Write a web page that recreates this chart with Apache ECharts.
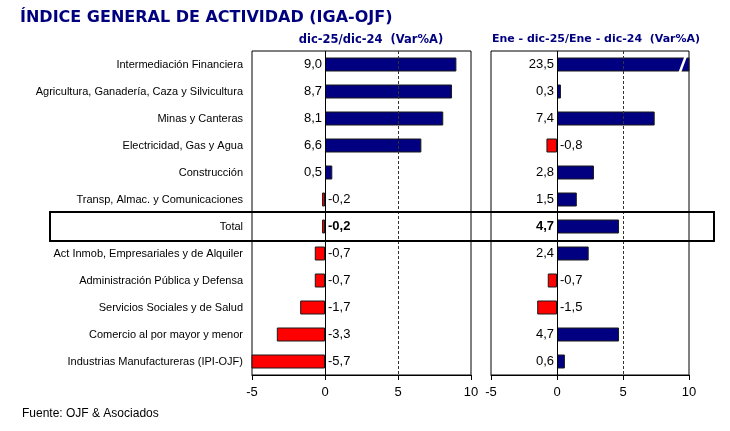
<!DOCTYPE html>
<html><head><meta charset="utf-8">
<script src="https://cdn.jsdelivr.net/npm/echarts@6/dist/echarts.min.js"></script>
<style>html,body{margin:0;padding:0;background:#fff}#c{width:730px;height:431px}</style>
</head><body><div id="c"></div>
<script>
const categories = [
  'Intermediación Financiera',
  'Agricultura, Ganadería, Caza y Silvicultura',
  'Minas y Canteras',
  'Electricidad, Gas y Agua',
  'Construcción',
  'Transp, Almac. y Comunicaciones',
  'Total',
  'Act Inmob, Empresariales y de Alquiler',
  'Administración Pública y Defensa',
  'Servicios Sociales y de Salud',
  'Comercio al por mayor y menor',
  'Industrias Manufactureras (IPI-OJF)'
];
const dicVar = [9.0, 8.7, 8.1, 6.6, 0.5, -0.2, -0.2, -0.7, -0.7, -1.7, -3.3, -5.7];
const eneDicVar = [23.5, 0.3, 7.4, -0.8, 2.8, 1.5, 4.7, 2.4, -0.7, -1.5, 4.7, 0.6];
const xMin = -5, xMax = 10, xInterval = 5;
const titleText = 'ÍNDICE GENERAL DE ACTIVIDAD (IGA-OJF)';
const leftHeader = 'dic-25/dic-24  (Var%A)';
const rightHeader = 'Ene - dic-25/Ene - dic-24  (Var%A)';
const sourceText = 'Fuente: OJF & Asociados';

const NAVY = '#000080', RED = '#ff0000';
const fmt = v => v.toFixed(1).replace('.', ',');

function makeData(vals) {
  return vals.map((v, i) => ({
    value: v,
    itemStyle: { color: v < 0 ? RED : NAVY },
    label: {
      position: v < 0 ? 'right' : 'left',
      fontWeight: categories[i] === 'Total' ? 'bold' : 'normal'
    }
  }));
}

const chart = echarts.init(document.getElementById('c'));
const gridCommon = { top: 51, height: 324, show: true, borderColor: '#000', borderWidth: 1, containLabel: false };
function xAxisCfg(idx) {
  return {
    type: 'value', gridIndex: idx, min: xMin, max: xMax, interval: xInterval,
    axisLine: { show: true, lineStyle: { color: '#000', width: 1 } },
    axisTick: { show: true, length: 5, lineStyle: { color: '#000' } },
    splitLine: { show: false },
    axisLabel: { color: '#000', fontSize: 13, fontFamily: 'Liberation Sans', margin: 11 }
  };
}
function seriesCfg(idx, vals) {
  return {
    type: 'bar', xAxisIndex: idx, yAxisIndex: idx, barWidth: 14, clip: true,
    data: makeData(vals),
    itemStyle: { borderColor: '#1a1a1a', borderWidth: 1 },
    label: { show: true, color: '#000', fontSize: 13, fontFamily: 'Liberation Sans', distance: 3,
      formatter: p => fmt(p.value) },
    markLine: {
      silent: true, symbol: ['none', 'none'], label: { show: false },
      data: [
        { xAxis: 0, lineStyle: { type: 'solid', color: '#000', width: 1 } },
        { xAxis: 5, lineStyle: { type: [3, 2], color: '#333', width: 1 } }
      ]
    }
  };
}

chart.setOption({
  animation: false,
  backgroundColor: '#fff',
  title: [
    { text: titleText, left: 15, top: 5, textStyle: { color: '#00007f', fontSize: 16, fontWeight: 'bold', fontFamily: 'DejaVu Sans' } },
    { text: leftHeader, left: 366, top: 29, textAlign: 'center', textStyle: { color: '#00007f', fontSize: 11.5, fontWeight: 'bold', fontFamily: 'DejaVu Sans' } },
    { text: rightHeader, left: 591, top: 29, textAlign: 'center', textStyle: { color: '#00007f', fontSize: 11, fontWeight: 'bold', fontFamily: 'DejaVu Sans' } },
    { text: sourceText, left: 17, top: 403, textStyle: { color: '#000', fontSize: 12, fontWeight: 'normal', fontFamily: 'Liberation Sans' } }
  ],
  grid: [
    Object.assign({ left: 252, width: 219 }, gridCommon),
    Object.assign({ left: 491, width: 198 }, gridCommon)
  ],
  xAxis: [xAxisCfg(0), xAxisCfg(1)],
  yAxis: [
    { type: 'category', gridIndex: 0, data: categories, inverse: true,
      axisLine: { show: false }, axisTick: { show: false },
      axisLabel: { color: '#000', fontSize: 11, fontFamily: 'Liberation Sans', margin: 9 } },
    { type: 'category', gridIndex: 1, data: categories, inverse: true,
      axisLine: { show: false }, axisTick: { show: false }, axisLabel: { show: false } }
  ],
  series: [seriesCfg(0, dicVar), seriesCfg(1, eneDicVar)]
});

// decorations: Total highlight box and axis-break slash on the overflowing bar
const totalY = chart.convertToPixel({ yAxisIndex: 0 }, 'Total');
const rowH = 324 / categories.length;
const brkIdx = eneDicVar.findIndex(v => v > xMax);
const graphics = [{
  type: 'rect', z: 100, silent: true,
  shape: { x: 50, y: totalY - rowH / 2 - 1, width: 664, height: rowH + 2 },
  style: { fill: 'none', stroke: '#000', lineWidth: 2 }
}];
if (brkIdx >= 0) {
  const yc = chart.convertToPixel({ yAxisIndex: 1 }, categories[brkIdx]);
  const x1 = chart.convertToPixel({ xAxisIndex: 1 }, 9.3);
  const x2 = chart.convertToPixel({ xAxisIndex: 1 }, 9.75);
  graphics.push({
    type: 'line', z: 100, silent: true,
    shape: { x1: x1, y1: yc + 8, x2: x2, y2: yc - 8 },
    style: { stroke: '#fff', lineWidth: 2.5 }
  });
}
chart.setOption({ graphic: graphics });
</script>
</body></html>
